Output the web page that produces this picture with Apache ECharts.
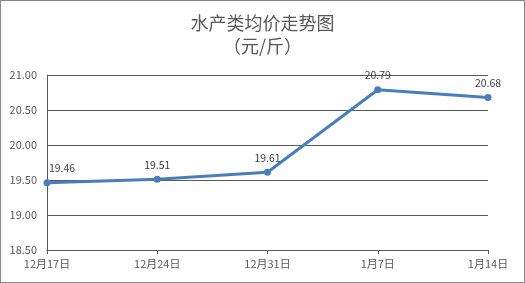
<!DOCTYPE html>
<html><head><meta charset="utf-8">
<script src="https://cdn.jsdelivr.net/npm/echarts@6/dist/echarts.min.js"></script>
<style>html,body{margin:0;padding:0;background:#fff}#c{width:525px;height:283px;box-sizing:border-box;border:1px solid #868686}</style>
</head><body><div id="c"></div>
<script>
const categories = ['12月17日','12月24日','12月31日','1月7日','1月14日'];
const values = [19.46, 19.51, 19.61, 20.79, 20.68];
const yTicks = {min: 18.5, max: 21.0, interval: 0.5};
const chart = echarts.init(document.getElementById('c'));
const font = '"Microsoft YaHei","Noto Sans CJK SC",sans-serif';
chart.setOption({
  animation: false,
  title: {
    text: '水产类均价走势图\n（元/斤）', left: 'center', top: 6,
    textStyle: {fontFamily: font, fontSize: 18, fontWeight: 'normal', color: '#595959', lineHeight: 23}
  },
  grid: {left: 46, right: 36, top: 74, bottom: 32},
  xAxis: {
    type: 'category', data: categories, boundaryGap: false,
    axisLine: {lineStyle: {color: '#595959', width: 1}},
    axisTick: {show: true, alignWithLabel: true, length: 4, lineStyle: {color: '#595959'}},
    axisLabel: {color: '#595959', fontSize: 11, fontFamily: font, margin: 8}
  },
  yAxis: {
    type: 'value', min: yTicks.min, max: yTicks.max, interval: yTicks.interval,
    axisLine: {show: true, lineStyle: {color: '#595959'}},
    axisTick: {show: false},
    splitLine: {lineStyle: {color: '#595959', width: 1}},
    axisLabel: {color: '#595959', fontSize: 11, fontFamily: font, margin: 10,
      formatter: v => v.toFixed(2)}
  },
  series: [{
    type: 'line', data: values.map((v, i) => i === 0 ? {value: v, label: {offset: [15, 0]}} : v),
    symbol: 'circle', symbolSize: 7,
    lineStyle: {color: '#4a7ebb', width: 3},
    itemStyle: {color: '#4a7ebb'},
    label: {show: true, position: 'top', distance: 6, color: '#404040', fontSize: 10.5, fontFamily: font,
      formatter: p => p.value.toFixed(2)}
  }]
});
</script></body></html>
